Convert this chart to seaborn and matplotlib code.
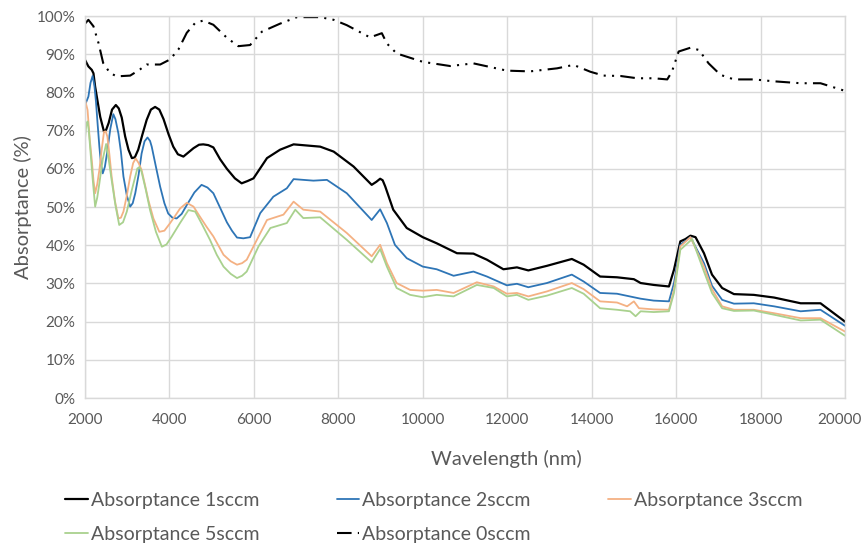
import matplotlib
matplotlib.use("Agg")
import matplotlib.pyplot as plt
import matplotlib.transforms as mtransforms
import seaborn as sns
import pandas as pd
from matplotlib.ticker import FuncFormatter, MultipleLocator

# ---- data ----
w0 = [2000, 2080, 2200, 2320, 2430, 2590, 2750, 3070, 3300, 3460, 3780, 4010, 4210, 4410, 4610, 4800, 5040,
      5360, 5630, 5910, 6190, 6620, 7020, 7570, 7890, 8200, 8750, 9030, 9150, 9380, 10000, 10650, 11200,
      11990, 12540, 13180, 13570, 13970, 14280, 14680, 15080, 15470, 15790, 15900, 16060, 16340, 16540,
      16770, 17050, 17370, 17840, 18320, 18950, 19420, 19740, 20000]
a0 = [98.0, 99.0, 97.3, 92.9, 87.7, 85.1, 84.2, 84.4, 86.0, 87.3, 87.3, 88.6, 91.2, 95.6, 98.2, 98.8, 97.7,
      94.3, 92.1, 92.4, 95.9, 98.0, 99.7, 99.7, 99.0, 97.6, 94.4, 95.5, 92.8, 90.2, 88.0, 86.9, 87.6,
      85.7, 85.5, 86.3, 87.2, 85.4, 84.4, 84.3, 83.7, 83.7, 83.4, 85.4, 90.7, 91.7, 91.1,
      87.6, 84.6, 83.4, 83.4, 82.9, 82.4, 82.4, 81.3, 80.4]

w1 = [2000, 2080, 2160, 2200, 2240, 2300, 2360, 2450, 2500, 2560, 2640, 2730, 2800, 2870, 2950, 3030, 3110,
      3180, 3260, 3360, 3460, 3560, 3660, 3760, 3860, 3980, 4090, 4200, 4330, 4450, 4570, 4700, 4800, 4920,
      5040, 5200, 5360, 5550, 5710, 5850, 5990, 6310, 6620, 6940, 7570, 7890, 8360, 8790, 8900, 8990, 9050,
      9110, 9300, 9620, 10000, 10330, 10810, 11200, 11520, 11910, 12230, 12500, 12940, 13530, 13810, 14200,
      14600, 15000, 15160, 15470, 15830, 15950, 16100, 16220, 16340, 16460, 16660, 16850, 17090, 17370,
      17840, 18320, 18950, 19420, 20000]
a1 = [88.5, 86.8, 85.9, 85.0, 81.5, 77.5, 73.6, 69.7, 70.2, 72.0, 75.5, 76.7, 75.8, 73.4, 68.5, 65.0, 62.8,
      63.0, 65.0, 69.0, 72.8, 75.5, 76.2, 75.5, 73.0, 69.0, 65.8, 63.8, 63.2, 64.3, 65.4, 66.3, 66.4, 66.2,
      65.6, 62.5, 60.0, 57.5, 56.2, 56.8, 57.5, 62.8, 65.0, 66.4, 65.8, 64.5, 60.6, 55.8, 56.6, 57.4, 57.0,
      55.4, 49.3, 44.5, 42.1, 40.5, 37.9, 37.8, 36.2, 33.7, 34.2, 33.4, 34.6, 36.4, 34.9, 31.8,
      31.6, 31.1, 30.1, 29.6, 29.2, 33.6, 41.0, 41.6, 42.5, 42.1, 37.9, 32.3, 28.8, 27.2,
      27.0, 26.3, 24.8, 24.8, 20.0]

w2 = [2000, 2080, 2130, 2180, 2220, 2260, 2300, 2340, 2380, 2420, 2470, 2520, 2600, 2670, 2720, 2790, 2850,
      2910, 2990, 3070, 3130, 3190, 3270, 3340, 3410, 3480, 3540, 3580, 3680, 3780, 3880, 3970, 4070, 4170,
      4290, 4410, 4590, 4760, 4900, 5040, 5200, 5360, 5480, 5600, 5750, 5910, 6150, 6460, 6780, 6940, 7410,
      7730, 8200, 8790, 8990, 9150, 9340, 9620, 10000, 10330, 10730, 11200, 11520, 11990, 12230, 12500,
      12940, 13530, 13810, 14200, 14600, 15160, 15470, 15830, 15950, 16100, 16340, 16660, 16850, 17090,
      17370, 17840, 18320, 18950, 19420, 20000]
a2 = [76.7, 78.9, 82.5, 84.3, 82.0, 77.5, 71.5, 65.8, 61.0, 58.8, 60.5, 64.0, 70.5, 74.3, 73.0, 69.3, 64.5,
      58.0, 53.0, 50.1, 51.0, 53.6, 58.5, 64.0, 67.2, 68.2, 67.3, 65.8, 60.5, 55.3, 51.0, 48.3, 47.2, 47.0,
      48.2, 50.5, 53.8, 55.8, 55.1, 53.6, 49.8, 46.0, 43.8, 42.0, 41.8, 42.1, 48.4, 52.7, 54.9, 57.3, 56.9,
      57.1, 53.6, 46.6, 49.4, 45.8, 40.1, 36.6, 34.4, 33.7, 32.0, 33.1, 31.8, 29.5, 29.9, 29.0,
      30.1, 32.3, 30.5, 27.5, 27.3, 26.0, 25.5, 25.3, 30.1, 40.1, 42.1, 35.3, 29.4, 25.7,
      24.7, 24.8, 24.0, 22.7, 23.1, 18.9]

w3 = [2000, 2060, 2110, 2160, 2200, 2240, 2290, 2340, 2400, 2450, 2490, 2530, 2580, 2630, 2710, 2790, 2850,
      2910, 2990, 3070, 3140, 3200, 3270, 3340, 3420, 3500, 3620, 3760, 3880, 4010, 4130, 4250, 4410, 4570,
      4720, 4880, 5040, 5280, 5450, 5600, 5720, 5830, 6070, 6310, 6700, 6940, 7170, 7570, 8200, 8790, 8990,
      9150, 9380, 9700, 10000, 10330, 10730, 11280, 11680, 11990, 12230, 12500, 12940, 13530, 13810, 14200,
      14600, 14840, 15000, 15120, 15470, 15830, 15950, 16100, 16340, 16660, 16850, 17090, 17370, 17840,
      18320, 18950, 19420, 20000]
a3 = [78.0, 75.4, 68.0, 62.3, 57.0, 53.6, 56.0, 59.7, 65.5, 69.7, 69.8, 68.4, 63.5, 58.0, 51.5, 47.0, 47.2,
      48.8, 53.0, 58.0, 61.5, 62.7, 61.5, 59.7, 55.8, 51.8, 47.0, 43.5, 43.8, 45.7, 47.6, 49.6, 51.1, 50.1,
      47.5, 44.8, 42.3, 37.5, 35.8, 34.9, 35.3, 36.2, 41.4, 46.6, 48.0, 51.4, 49.3, 48.8, 43.2, 37.1, 40.1,
      35.3, 30.1, 28.3, 28.1, 28.3, 27.5, 30.3, 29.2, 27.3, 27.5, 26.6, 27.9, 30.1, 28.5, 25.3,
      25.0, 24.0, 25.3, 23.5, 23.2, 23.1, 28.3, 39.7, 42.1, 34.4, 28.5, 24.0, 23.1, 23.1,
      22.2, 20.9, 20.9, 17.4]

w5 = [2000, 2030, 2060, 2090, 2120, 2180, 2240, 2290, 2340, 2420, 2500, 2560, 2630, 2720, 2810, 2900, 2990,
      3110, 3240, 3290, 3340, 3440, 3540, 3680, 3820, 3930, 4050, 4250, 4450, 4610, 4780, 4960, 5120, 5280,
      5450, 5600, 5720, 5830, 6110, 6390, 6780, 6980, 7170, 7570, 8200, 8790, 8990, 9150, 9380, 9700, 10000,
      10330, 10730, 11280, 11680, 11990, 12230, 12500, 12940, 13530, 13810, 14200, 14600, 14910, 15040,
      15160, 15470, 15830, 15950, 16100, 16380, 16660, 16850, 17090, 17370, 17840, 18320, 18950, 19420,
      20000]
a5 = [68.0, 71.5, 72.4, 70.0, 65.8, 57.5, 50.1, 52.5, 56.2, 62.5, 66.5, 62.5, 57.1, 50.5, 45.3, 46.0, 48.8,
      54.5, 60.1, 60.4, 59.2, 54.5, 49.2, 43.5, 39.6, 40.2, 42.2, 45.8, 49.2, 48.8, 45.3, 41.4, 37.5, 34.4,
      32.5, 31.4, 32.0, 33.1, 39.7, 44.5, 45.8, 49.3, 47.1, 47.3, 41.4, 35.5, 39.0, 34.4, 28.8, 27.0, 26.4,
      27.0, 26.6, 29.6, 28.8, 26.6, 27.0, 25.7, 26.8, 28.8, 27.3, 23.5, 23.1, 22.7, 21.4,
      22.7, 22.5, 22.7, 27.5, 38.8, 41.6, 33.1, 27.5, 23.5, 22.8, 22.9, 21.8, 20.3, 20.5,
      16.3]

labels = ["Absorptance 1sccm", "Absorptance 2sccm", "Absorptance 3sccm",
          "Absorptance 5sccm", "Absorptance 0sccm"]
x_ticks = list(range(2000, 20001, 2000))

# ---- style ----
sns.set_theme(style="whitegrid")
plt.rcParams["font.family"] = ["Lato", "DejaVu Sans"]
TXT = "#595959"
GRID = "#D9D9D9"

fig = plt.figure(figsize=(8.64, 5.48), dpi=100)
ax = fig.add_axes([0.0984, 0.2737, 0.8796, 0.6971])

series = [
    (w1, a1, labels[0], "#000000", 1.6, "-"),
    (w2, a2, labels[1], "#2E75B6", 1.3, "-"),
    (w3, a3, labels[2], "#F4B183", 1.3, "-"),
    (w5, a5, labels[3], "#A9D18E", 1.3, "-"),
    (w0, a0, labels[4], "#000000", 1.5, (0, (7, 3, 1, 3, 1, 3))),
]
for w, a, lab, col, lw, ls in series:
    df = pd.DataFrame({"Wavelength": w, "Absorptance": a})
    sns.lineplot(data=df, x="Wavelength", y="Absorptance", ax=ax, color=col,
                 linewidth=lw, linestyle=ls, label=lab, estimator=None, sort=False)

ax.set_xlim(2000, 20000)
ax.set_ylim(0, 100)
ax.set_xticks(x_ticks)
ax.yaxis.set_major_locator(MultipleLocator(10))
ax.yaxis.set_major_formatter(FuncFormatter(lambda v, p: f"{int(round(v))}%"))
ax.grid(True, color=GRID, linewidth=1.0)
for s in ax.spines.values():
    s.set_color(GRID)
    s.set_linewidth(1.0)
ax.tick_params(axis="both", colors=TXT, labelsize=11, length=0)
ax.tick_params(axis="x", pad=11)
ax.tick_params(axis="y", pad=7)
ax.set_xlabel("Wavelength (nm)", fontsize=14.5, color=TXT)
ax.xaxis.set_label_coords(0.555, -0.137)
ax.set_ylabel("Absorptance (%)", fontsize=14.5, color=TXT)
ax.yaxis.set_label_coords(-0.07, 0.5)

# keep the last x tick label inside the figure
fig.canvas.draw()
last = ax.get_xticklabels()[-1]
last.set_transform(last.get_transform() + mtransforms.ScaledTranslation(-4 / 72, 0, fig.dpi_scale_trans))

handles, labs = ax.get_legend_handles_labels()
ax.get_legend().remove()
order = [0, 3, 1, 4, 2]  # column-major fill -> rows: 1,2,3 / 5,0
leg = fig.legend([handles[i] for i in order], [labs[i] for i in order], loc="center",
                 bbox_to_anchor=(0.502, 0.0557), ncol=3, frameon=False, fontsize=14,
                 handlelength=1.15, handletextpad=0.15, columnspacing=4.0, labelspacing=0.85)
for t in leg.get_texts():
    t.set_color(TXT)

fig.savefig("out.png", dpi=100)
